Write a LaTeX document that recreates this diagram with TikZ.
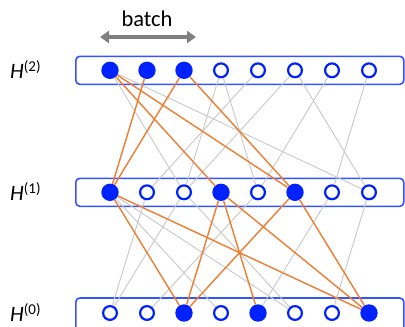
\documentclass[tikz,border=0pt]{standalone}
\usepackage{fontspec}
\setmainfont{Carlito}
\usetikzlibrary{arrows.meta}
\definecolor{boxblue}{RGB}{51,85,255}
\definecolor{nodeblue}{RGB}{0,34,255}
\definecolor{edgeorange}{RGB}{237,125,49}
\definecolor{edgegray}{RGB}{200,200,200}
\definecolor{arrowgray}{RGB}{128,128,128}
\tikzset{
  layerbox/.style={draw=boxblue, line width=1.6pt, rounded corners=4pt, fill=white,
    minimum width=328pt, minimum height=28pt, inner sep=0, anchor=west},
  fullnode/.style={circle, fill=nodeblue, minimum size=17.4pt, inner sep=0},
  emptynode/.style={circle, draw=nodeblue, line width=2.2pt, fill=white, minimum size=13.8pt, inner sep=0},
  grayedge/.style={draw=edgegray, line width=0.9pt},
  orangeedge/.style={draw=edgeorange, line width=1.4pt},
  layerlabel/.style={anchor=base west, inner sep=0, font=\fontsize{22}{22}\selectfont},
}
\newcommand{\suplab}[1]{\textit{H}\raisebox{7pt}{\fontsize{15}{15}\selectfont(#1)}}
\begin{document}
\begin{tikzpicture}[x=1pt,y=-1pt]
\useasboundingbox (0,0) rectangle (405,327);
\clip (0,0) rectangle (405,327);
% batch arrow
\node[anchor=base, inner sep=0, font=\fontsize{22.5}{22.5}\selectfont] (batchlabel) at (147,26) {batch};
\coordinate (bl) at (100,37);
\coordinate (br) at (196,37);
\draw[arrowgray, line width=4pt, {Triangle[length=9pt,width=12pt]}-{Triangle[length=9pt,width=12pt]}] (bl) -- (br);
% labels
\node[layerlabel] (lab2) at (10,78.5) {\suplab{2}};
\node[layerlabel] (lab1) at (10,200.5) {\suplab{1}};
\node[layerlabel] (lab0) at (10,321.5) {\suplab{0}};
% boxes
\node[layerbox] (box2) at (75,70.3) {};
\node[layerbox] (box1) at (75,192.3) {};
\node[layerbox, minimum height=33pt] (box0) at (75,314.5) {};
% nodes
\foreach \i/\s in {1/fullnode,2/fullnode,3/fullnode,4/emptynode,5/emptynode,6/emptynode,7/emptynode,8/emptynode}
  \node[\s] (t\i) at ({110+37*(\i-1)},70.3) {};
\foreach \i/\s in {1/fullnode,2/emptynode,3/emptynode,4/fullnode,5/emptynode,6/fullnode,7/emptynode,8/emptynode}
  \node[\s] (m\i) at ({110+37*(\i-1)},192.3) {};
\foreach \i/\s in {1/emptynode,2/emptynode,3/fullnode,4/emptynode,5/fullnode,6/emptynode,7/emptynode,8/fullnode}
  \node[\s] (b\i) at ({110+37*(\i-1)},313) {};
% gray edges top -> middle
\foreach \a/\b in {1/3,1/8,4/3,4/5,5/2,6/3,6/8,7/5,8/7}
  \draw[grayedge] (t\a) -- (m\b);
% gray edges middle -> bottom
\foreach \a/\b in {1/4,1/6,2/1,3/1,3/6,5/2,7/5,8/7}
  \draw[grayedge] (m\a) -- (b\b);
% orange edges
\foreach \a/\b in {1/4,1/6,2/1,3/1,3/6}
  \draw[orangeedge] (t\a) -- (m\b);
\foreach \a/\b in {1/3,1/8,4/3,4/5,4/8,6/3,6/8}
  \draw[orangeedge] (m\a) -- (b\b);
\end{tikzpicture}
\end{document}
